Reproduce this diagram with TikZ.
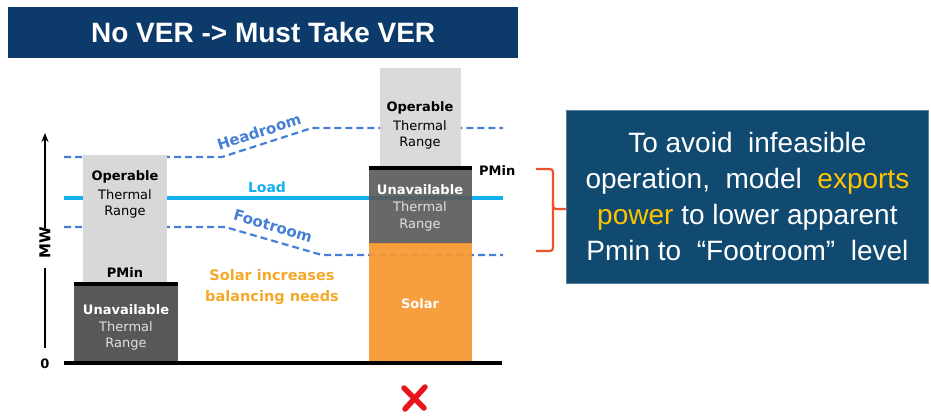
\documentclass[tikz,border=0pt]{standalone}
\usepackage{fontspec}
\setmainfont{Liberation Sans}
\newfontfamily\lbl{DejaVu Sans}
\usetikzlibrary{arrows.meta}

\definecolor{navy}{RGB}{12,58,106}
\definecolor{notebox}{RGB}{17,74,112}
\definecolor{lightgray}{RGB}{216,216,216}
\definecolor{darkgray}{RGB}{88,88,88}
\definecolor{solar}{RGB}{247,152,50}
\definecolor{solartext}{RGB}{245,168,40}
\definecolor{loadcyan}{RGB}{20,176,238}
\definecolor{dashblue}{RGB}{70,128,214}
\definecolor{bracered}{RGB}{238,82,42}
\definecolor{hiyellow}{RGB}{255,196,0}
\definecolor{xred}{RGB}{232,20,28}

\begin{document}
\begin{tikzpicture}[x=1pt,y=-1pt,
  lb/.style={font=\lbl\fontsize{13}{15}\selectfont, inner sep=0},
  lbb/.style={font=\lbl\bfseries\fontsize{13}{15}\selectfont, inner sep=0},
  bar/.style={inner sep=0, anchor=north west, draw=none},
  dashline/.style={dashblue, line width=2.2, dash pattern=on 7pt off 4pt},
  pminbar/.style={line width=4.5, black},
]
\useasboundingbox (0,0) rectangle (931,415);

% title banner
\node[fill=navy, minimum width=510, minimum height=51, inner sep=0, anchor=north west,
      text=white, font=\bfseries\fontsize{28}{30}\selectfont] (title) at (8,7)
      {No VER -> Must Take VER};

% reference levels
\coordinate (hA) at (64,157);  \coordinate (hB) at (222,157);
\coordinate (hC) at (312,128); \coordinate (hD) at (503,128);
\coordinate (fA) at (64,227);  \coordinate (fB) at (225,227);
\coordinate (fC) at (322,255); \coordinate (fD) at (503,255);
\coordinate (lA) at (64,198);  \coordinate (lB) at (503,198);

\draw[dashline] (hA) -- (hB) -- (hC) -- (hD);
\draw[dashline] (fA) -- (fB) -- (fC) -- (fD);
\draw[loadcyan, line width=3.4] (lA) -- (lB);

\node[font=\lbl\bfseries\fontsize{15}{17}\selectfont, text=dashblue, rotate=18, inner sep=0] (headlbl) at (259,132) {Headroom};
\node[font=\lbl\bfseries\fontsize{15}{17}\selectfont, text=dashblue, rotate=-16, inner sep=0] (footlbl) at (273,226) {Footroom};
\node[font=\lbl\bfseries\fontsize{14}{16}\selectfont, text=loadcyan, inner sep=0] (loadlbl) at (267,187) {Load};

% left stack: no variable energy
\node[bar, fill=lightgray, minimum width=84, minimum height=130] (lop) at (83,155) {};
\node[bar, fill=darkgray, minimum width=104, minimum height=80] (lun) at (74,284) {};
\draw[pminbar] (lun.north west) -- (lun.north east);
\node[lbb] (lopt1) at (125,177) {Operable};
\node[lb]  (lopt2) at (125,195) {Thermal};
\node[lb]  (lopt3) at (125,212) {Range};
\node[lbb] (lpmin) at (125,273) {PMin};
\node[lbb, text=white] (lunt1) at (126,310) {Unavailable};
\node[lb, text=white!88!black] (lunt2) at (126,327) {Thermal};
\node[lb, text=white!88!black] (lunt3) at (126,344) {Range};

% right stack: must-take solar
\node[bar, fill=lightgray, fill opacity=0.94, minimum width=81, minimum height=101] (rop) at (380,68) {};
\node[bar, fill=darkgray, fill opacity=0.9, minimum width=103, minimum height=76] (run) at (369,168) {};
\node[bar, fill=solar, fill opacity=0.94, minimum width=103, minimum height=120] (rsol) at (369,243) {};
\draw[pminbar] (run.north west) -- (run.north east);
\node[lbb] (ropt1) at (420,108) {Operable};
\node[lb]  (ropt2) at (420,126) {Thermal};
\node[lb]  (ropt3) at (420,143) {Range};
\node[lbb, anchor=west] (rpmin) at (479,171) {PMin};
\node[lbb, text=white] (runt1) at (420,190) {Unavailable};
\node[lb, text=white!88!black] (runt2) at (420,207) {Thermal};
\node[lb, text=white!88!black] (runt3) at (420,225) {Range};
\node[lbb, text=white] (rsolt) at (420,304) {Solar};

\node[font=\lbl\bfseries\fontsize{14.5}{21}\selectfont, text=solartext, align=center] (note)
      at (272,287) {Solar increases\\balancing needs};

% axis
\coordinate (ax0) at (45,348); \coordinate (ax1) at (45,268);
\coordinate (ax2) at (45,228); \coordinate (ax3) at (45,133);
\draw[line width=1.8] (ax0) -- (ax1);
\draw[line width=1.8, -{Stealth[length=9pt,width=7pt]}] (ax2) -- (ax3);
\node[font=\lbl\bfseries\fontsize{15}{17}\selectfont, inner sep=0, rotate=90] (mw) at (45,243) {MW};
\node[lbb] (zero) at (45,364) {0};
\coordinate (bL) at (64,363); \coordinate (bR) at (502,363);
\draw[line width=4] (bL) -- (bR);

% infeasible mark
\coordinate (xa) at (404,388); \coordinate (xb) at (424,408);
\coordinate (xc) at (425,387); \coordinate (xd) at (405,409);
\draw[xred, line width=5.5, line cap=round] (xa) -- (xb);
\draw[xred, line width=5.5, line cap=round] (xc) -- (xd);

% brace and explanation
\coordinate (br1) at (536,169); \coordinate (br2) at (553,169);
\coordinate (br3) at (553,209); \coordinate (br4) at (567,209);
\coordinate (br5) at (553,251); \coordinate (br6) at (536,251);
\draw[bracered, line width=2.2, rounded corners=3] (br1) -- (br2) -- (br3) -- (br5) -- (br6);
\draw[bracered, line width=2.2, rounded corners=3] (553,203) -- (br3) -- (br4);

\node[fill=notebox, draw=notebox!70!white, line width=0.8, anchor=north west,
      minimum width=362, minimum height=173, inner sep=0] (box) at (566,110) {};
\node[text=white, align=center, font=\fontsize{28}{36}\selectfont, inner sep=0] (boxtext) at (box.center)
  {To avoid \ infeasible\\operation, \ model \ \textcolor{hiyellow}{exports}\\\textcolor{hiyellow}{power} to lower apparent\\Pmin to \ “Footroom” \ level};
\end{tikzpicture}
\end{document}
